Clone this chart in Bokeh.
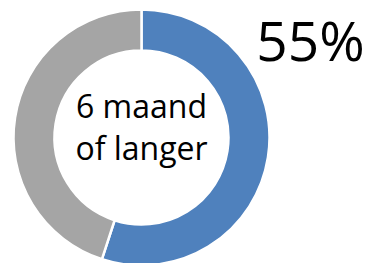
import math
from bokeh.plotting import figure
from bokeh.models import ColumnDataSource, Range1d
from bokeh.core.properties import value
from bokeh.embed import file_html
from bokeh.resources import INLINE

# data
categories = ["6 maand of langer", "overig"]
values = [55, 45]
center_lines = ["6 maand", "of langer"]
headline = "55%"

colors = ["#4F81BD", "#A5A5A5"]

W, H = 368, 263
p = figure(width=W, height=H, output_backend="svg", toolbar_location=None,
           x_range=Range1d(0, W), y_range=Range1d(0, H), min_border=0)
p.axis.visible = False
p.grid.visible = False
p.outline_line_color = None
p.background_fill_color = "white"
p.border_fill_color = "white"

total = sum(values)
starts, ends = [], []
a = math.pi / 2
for v in values:
    starts.append(a)
    a -= v / total * 2 * math.pi
    ends.append(a)

cx, cy = 141, 126
src = ColumnDataSource(dict(cat=categories, val=values, start=starts, end=ends,
                            color=colors))
p.annular_wedge(x=cx, y=cy, inner_radius=87, outer_radius=128,
                start_angle="start", end_angle="end", direction="clock",
                fill_color="color", line_color="white", line_width=2.5, source=src)

font = value("Open Sans")
p.text(x=[cx, cx], y=[158, 116], text=center_lines, text_font=font,
       text_font_size="32px", text_align="center", text_baseline="alphabetic",
       text_color="black")
p.text(x=[310], y=[224], text=[headline], text_font=font,
       text_font_size="55px", text_align="center", text_baseline="alphabetic",
       text_color="black")

open("out.html", "w").write(file_html(p, INLINE))
